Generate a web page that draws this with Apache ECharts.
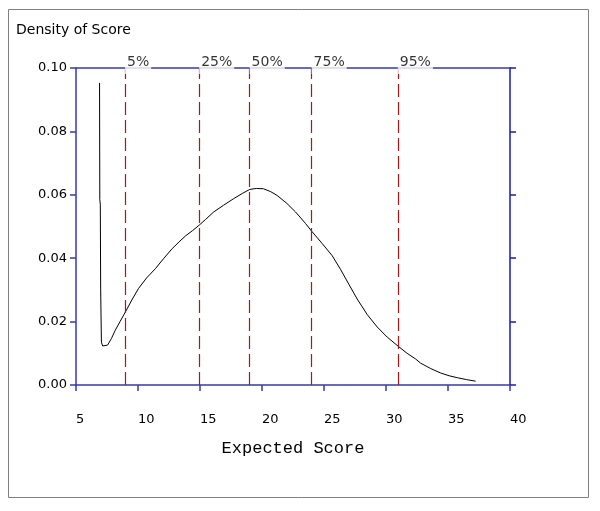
<!DOCTYPE html>
<html><head><meta charset="utf-8">
<script src="https://cdn.jsdelivr.net/npm/echarts@6/dist/echarts.min.js"></script>
<style>html,body{margin:0;padding:0;background:#fff}#c{width:600px;height:511px}</style>
</head><body><div id="c"></div>
<script>
const scoreX = [6.90,6.92,6.96,6.99,7.05,7.15,7.31,7.55,7.85,8.17,8.55,8.98,9.5,10.05,10.7,11.40,12.05,12.75,13.3,13.82,14.4,14.93,15.44,16.11,16.9,17.72,18.4,19.01,19.55,20.12,20.7,21.22,22.0,22.70,23.06,23.5,24.05,24.86,25.66,26.33,27.0,27.68,28.49,29.29,30.1,30.99,31.7,32.39,32.79,33.6,34.4,35.1,35.75,36.5,37.23];
const density = [0.0953,0.0585,0.0570,0.0300,0.0135,0.0123,0.0120,0.0126,0.0146,0.0173,0.0200,0.0230,0.0268,0.0305,0.0338,0.0367,0.0398,0.0430,0.0451,0.0470,0.0487,0.0504,0.0522,0.0546,0.0567,0.0588,0.0604,0.0617,0.0620,0.0619,0.0610,0.0598,0.0573,0.0546,0.0530,0.0510,0.0483,0.0446,0.0408,0.0365,0.0318,0.0271,0.0222,0.0183,0.0151,0.0122,0.0100,0.0082,0.0069,0.0052,0.0038,0.0029,0.0023,0.0017,0.0012];
const quantileLabels = ['5%','25%','50%','75%','95%'];
const quantileValues = [8.95,14.93,19.0,24.0,30.95];
const xTicks = {min:5,max:40,interval:5};
const yTicks = {min:0,max:0.1,interval:0.02};

const blue = '#3a3aa8';
const darkBlue = '#1c1c9c';
const red = '#a01c1c';
const chart = echarts.init(document.getElementById('c'), null, {renderer:'canvas'});
chart.setOption({
  animation:false,
  backgroundColor:'#fff',
  title:{text:'Density of Score',left:11,top:18,textStyle:{fontFamily:'DejaVu Sans',fontSize:14,fontWeight:'normal',color:'#000'}},
  graphic:[{type:'rect',shape:{x:8.5,y:9.5,width:580,height:488},style:{fill:'none',stroke:'#808080',lineWidth:1},silent:true}],
  grid:{left:76,right:90,top:68,bottom:126},
  xAxis:[{type:'value',position:'bottom',min:xTicks.min,max:xTicks.max,interval:xTicks.interval,
    name:'Expected Score',nameLocation:'middle',nameGap:55,
    nameTextStyle:{fontFamily:'Liberation Mono',fontSize:17,color:'#000'},
    axisLine:{lineStyle:{color:blue,width:1.5}},
    axisTick:{show:true,length:6,lineStyle:{color:blue,width:1.5}},
    axisLabel:{align:'left',margin:28,fontFamily:'DejaVu Sans',fontSize:13,color:'#000'},
    splitLine:{show:false}},
   {type:'value',position:'top',min:xTicks.min,max:xTicks.max,interval:xTicks.interval,
    axisLine:{show:true,onZero:false,lineStyle:{color:blue,width:1.5}},axisTick:{show:false},axisLabel:{show:false},splitLine:{show:false}}],
  yAxis:[{type:'value',position:'left',min:yTicks.min,max:yTicks.max,interval:yTicks.interval,
    axisLine:{show:true,lineStyle:{color:blue,width:1.5}},
    axisTick:{show:true,length:6,lineStyle:{color:blue,width:1.5}},
    axisLabel:{margin:9,fontFamily:'DejaVu Sans',fontSize:13,color:'#000',padding:[6,0,0,0],formatter:v=>v.toFixed(2)},
    splitLine:{show:false}},
   {type:'value',position:'right',min:yTicks.min,max:yTicks.max,interval:yTicks.interval,
    axisLine:{show:true,lineStyle:{color:darkBlue,width:1.5}},
    axisTick:{show:true,length:6,lineStyle:{color:darkBlue,width:1.5}},
    axisLabel:{show:false},splitLine:{show:false}}],
  series:[
    {type:'line',data:scoreX.map((x,i)=>[x,density[i]]),showSymbol:false,symbol:'none',smooth:false,
     lineStyle:{color:'#000',width:1},z:3,
     markLine:{silent:true,symbol:['none','none'],label:{show:false},
       lineStyle:{color:red,width:1.2,type:[13,5]},
       data:quantileValues.map(q=>[{coord:[q,yTicks.min]},{coord:[q,yTicks.max]}])}},
    {type:'scatter',data:quantileValues.map((q,i)=>({value:[q,yTicks.max],name:quantileLabels[i]})),
     symbolSize:0,z:5,silent:true,
     label:{show:true,position:'right',distance:0,offset:[0,-6],formatter:p=>p.name,
       fontFamily:'DejaVu Sans',fontSize:14,color:'#000',backgroundColor:'#fff',padding:[2,2,8,2]}}
  ]
});
</script></body></html>
